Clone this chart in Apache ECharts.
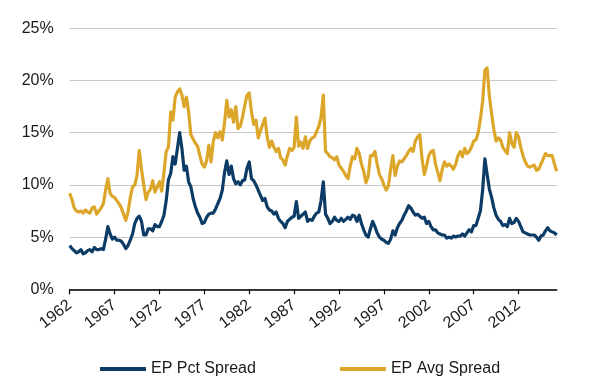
<!DOCTYPE html>
<html>
<head>
<meta charset="utf-8">
<script src="https://cdn.jsdelivr.net/npm/echarts@6/dist/echarts.min.js"></script>
<style>
html,body{margin:0;padding:0;background:#fff;}
#chart{width:600px;height:386px;}
</style>
</head>
<body>
<div id="chart"></div>
<script>
// Quarterly observations starting 1962 Q1
const startYear = 1962;
const stepYears = 0.25;
const seriesNames = ['EP Pct Spread', 'EP Avg Spread'];
const tickYears = [1962, 1967, 1972, 1977, 1982, 1987, 1992, 1997, 2002, 2007, 2012];
const yTicks = [0, 5, 10, 15, 20, 25];

const epPctSpread = [
  4.2,3.9,3.7,3.5,3.6,3.8,3.4,3.5,3.7,3.8,
  3.6,4.0,3.8,3.8,3.9,3.8,4.8,6.0,5.3,4.8,
  5.0,4.7,4.7,4.6,4.3,3.9,4.2,4.7,5.3,6.3,
  6.8,7.0,6.5,5.2,5.2,5.8,5.8,5.6,6.2,6.0,
  6.0,6.5,7.1,8.5,10.5,11.1,12.7,12.0,13.5,15.0,
  13.5,11.4,11.8,10.3,9.8,8.7,7.9,7.3,6.9,6.3,
  6.4,6.9,7.2,7.3,7.3,7.7,8.2,8.7,9.5,11.2,
  12.3,11.0,11.8,10.6,10.1,10.3,10.0,10.4,10.5,11.6,
  12.2,10.6,10.4,10.0,9.5,9.0,8.5,8.7,7.9,7.6,
  7.5,7.2,7.4,6.8,6.5,6.3,5.9,6.5,6.7,6.9,
  7.0,8.4,6.8,7.0,7.2,7.4,6.5,6.7,6.6,7.0,
  7.3,7.4,8.5,10.3,7.2,6.8,6.3,6.5,6.9,6.6,
  6.5,6.8,6.5,6.7,6.9,6.7,7.1,7.0,6.5,7.1,
  6.3,5.7,5.2,5.0,5.8,6.5,6.0,5.4,5.0,4.8,
  4.7,4.5,4.4,4.8,5.6,5.2,5.9,6.3,6.6,7.1,
  7.5,8.0,7.8,7.4,7.1,7.2,7.0,6.8,6.9,6.3,
  6.5,6.0,5.7,5.7,5.4,5.3,5.2,5.2,4.9,5.0,
  4.9,5.1,5.0,5.1,5.1,5.3,5.1,5.4,5.7,5.5,
  6.1,6.1,6.8,7.5,9.5,12.5,11.0,9.6,8.8,7.8,
  7.1,6.7,6.5,6.1,6.2,6.0,6.8,6.3,6.4,6.8,
  6.5,6.0,5.5,5.4,5.3,5.2,5.2,5.2,5.0,4.7,
  5.1,5.2,5.6,5.9,5.6,5.5,5.4,5.2
];

const epAvgSpread = [
  9.2,8.6,7.8,7.5,7.4,7.5,7.3,7.6,7.4,7.3,
  7.8,7.9,7.2,7.5,7.8,8.2,9.5,10.6,9.2,8.9,
  8.8,8.5,8.2,7.8,7.2,6.6,7.4,8.8,9.8,10.0,
  10.9,13.3,11.5,10.0,8.6,9.3,9.6,10.4,9.3,9.8,
  10.3,9.4,11.2,13.2,13.6,17.0,16.2,18.4,18.9,19.2,
  18.6,17.5,18.4,17.0,14.8,14.4,14.0,13.7,12.8,12.0,
  11.7,12.3,13.8,12.2,14.2,15.0,14.5,15.1,14.3,16.0,
  18.1,16.5,17.2,16.0,17.5,15.4,15.6,16.5,17.6,18.6,
  18.8,17.0,15.8,16.2,14.5,15.2,15.8,16.4,14.6,13.6,
  14.2,13.6,13.2,13.5,12.6,12.4,11.9,12.8,13.5,13.3,
  13.6,16.5,13.7,14.1,13.5,14.6,13.5,14.2,14.5,14.6,
  15.1,15.6,16.5,18.6,13.2,13.0,12.7,12.6,12.4,12.7,
  11.9,11.6,11.3,10.9,10.6,11.8,12.7,12.5,13.5,13.0,
  12.0,11.3,10.2,10.8,12.8,12.8,13.2,12.0,11.0,10.6,
  10.0,9.5,9.9,11.5,12.8,10.9,11.8,12.3,12.2,12.5,
  12.8,13.2,13.5,13.2,14.2,14.6,14.8,12.5,11.0,11.8,
  12.8,13.2,13.3,12.0,11.2,10.4,11.5,12.2,11.8,12.0,
  11.8,11.5,12.0,12.8,13.2,12.7,13.5,13.0,13.2,13.6,
  14.2,14.3,15.0,16.3,18.0,21.0,21.2,18.5,16.8,15.3,
  14.2,14.5,14.3,13.6,13.3,13.0,15.0,14.0,13.6,15.0,
  14.6,13.6,12.8,12.2,11.8,11.7,11.8,11.9,11.4,11.5,
  12.0,12.5,13.0,12.8,12.8,12.8,12.0,11.3
];

const toPairs = arr => arr.map((v, i) => [i * stepYears, v]);
const xMax = (epPctSpread.length - 1) * stepYears;
const tickOffsets = tickYears.map(y => y - startYear);

const chart = echarts.init(document.getElementById('chart'), null, {renderer: 'canvas'});
const font = 'Liberation Sans, Arial, Helvetica, sans-serif';
chart.setOption({
  animation: false,
  backgroundColor: '#ffffff',
  grid: {left: 69.7, right: 43.3, top: 28.3, bottom: 96.7, containLabel: false},
  xAxis: {
    type: 'value',
    min: 0,
    max: xMax,
    splitLine: {show: false},
    axisLine: {show: true, lineStyle: {color: '#000', width: 1.5}},
    axisTick: {show: true, length: 5, lineStyle: {color: '#000', width: 1.2}, customValues: tickOffsets},
    axisLabel: {
      customValues: tickOffsets,
      rotate: 38,
      margin: 14,
      color: '#1a1a1a',
      fontSize: 16,
      fontFamily: font,
      formatter: v => String(Math.round(v + startYear))
    }
  },
  yAxis: {
    type: 'value',
    min: 0,
    max: 25,
    interval: 5,
    axisLine: {show: false},
    axisTick: {show: false},
    splitLine: {show: true, lineStyle: {color: '#c8c8c8', width: 1}},
    axisLabel: {
      margin: 16,
      color: '#1a1a1a',
      fontSize: 16,
      fontFamily: font,
      formatter: v => v + '%'
    }
  },
  legend: {
    bottom: 'auto',
    top: 356,
    left: 'center',
    icon: 'rect',
    itemWidth: 46,
    itemHeight: 4,
    itemGap: 84,
    textStyle: {fontSize: 16, color: '#1a1a1a', fontFamily: font, padding: [0, 0, 0, 0]},
    data: seriesNames
  },
  series: [
    {
      name: seriesNames[0],
      type: 'line',
      data: toPairs(epPctSpread),
      showSymbol: false,
      symbol: 'none',
      color: '#0c3c66',
      lineStyle: {width: 3.2, color: '#0c3c66', join: 'round'},
      z: 3
    },
    {
      name: seriesNames[1],
      type: 'line',
      data: toPairs(epAvgSpread),
      showSymbol: false,
      symbol: 'none',
      color: '#dca62b',
      lineStyle: {width: 3.2, color: '#dca62b', join: 'round'},
      z: 2
    }
  ]
});
</script>
</body>
</html>
